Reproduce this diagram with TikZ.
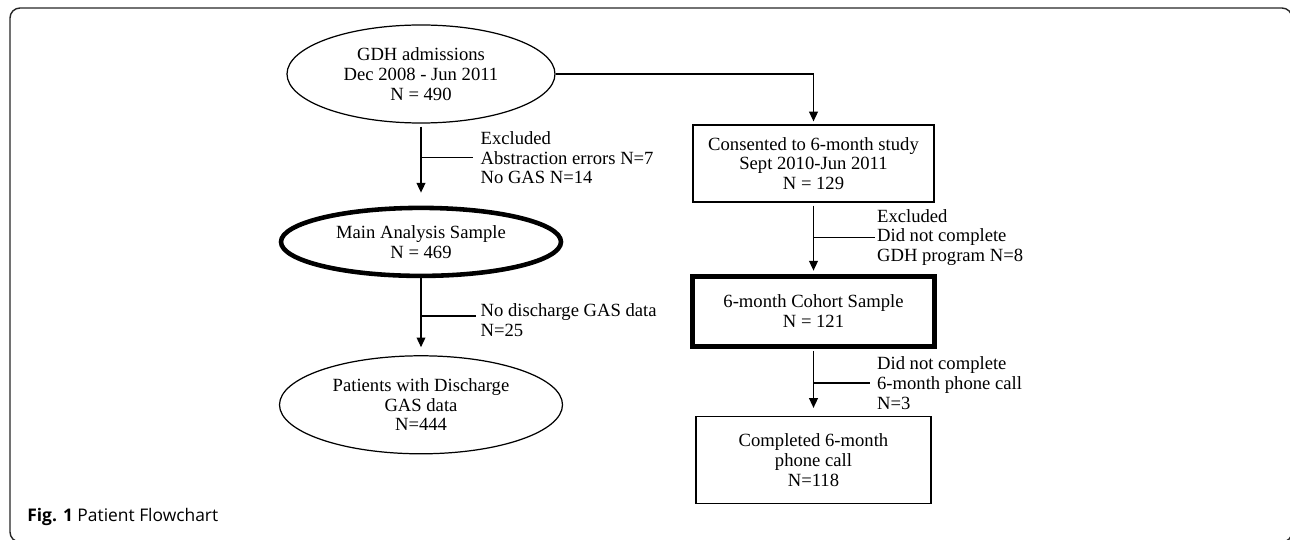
\documentclass[tikz,border=0pt]{standalone}
\usepackage{fontspec}
\setmainfont{Liberation Serif}
\setsansfont{Open Sans}
\usetikzlibrary{arrows.meta, positioning, shapes.geometric}

\begin{document}
\begin{tikzpicture}[
    >={Triangle[length=5.5pt,width=5pt]},
    every node/.style={font=\fontsize{10.6}{11.2}\selectfont},
    oval/.style={
        draw=black, ellipse, line width=0.7pt,
        align=center, inner sep=0pt
    },
    box/.style={
        draw=black, line width=0.7pt,
        align=center, inner sep=0pt
    },
    flow/.style={draw=black, line width=0.7pt, ->},
    side/.style={draw=black, line width=0.7pt},
    note/.style={align=left, anchor=west, inner sep=0pt},
    node distance=1.5cm
]
\useasboundingbox (0,0) rectangle (25.8,-10.8);

% Frame
\draw[black!85, line width=0.8pt, rounded corners=0.2cm]
    (0.2,-10.84) rectangle (25.84,-0.16);

% Left column
\node[oval, minimum width=5.36cm, minimum height=1.96cm] (gdh) at (8.42,-1.48)
    {GDH admissions\\Dec 2008 - Jun 2011\\N = 490};
\node[oval, line width=2.6pt, minimum width=5.6cm, minimum height=1.36cm,
      below=1.64cm of gdh] (main)
    {Main Analysis Sample\\N = 469};
\node[oval, minimum width=5.66cm, minimum height=1.96cm,
      below=1.54cm of main] (pats)
    {Patients with Discharge\\GAS data\\N=444};

% Right column
\node[box, minimum width=4.82cm, minimum height=1.54cm] (consent) at (16.27,-3.27)
    {Consented to 6-month study\\Sept 2010-Jun 2011\\N = 129};
\node[box, line width=3pt, minimum width=4.84cm, minimum height=1.4cm,
      below=1.42cm of consent] (cohort)
    {6-month Cohort Sample\\N = 121};
\node[box, minimum width=4.7cm, minimum height=1.74cm,
      below=1.34cm of cohort] (done)
    {Completed 6-month\\phone call\\N=118};

% Edges
\draw[flow, shorten <=0.06cm, shorten >=0.26cm] (gdh.south) -- coordinate[pos=0.415] (br1) (main.north);
\draw[flow, shorten >=0.16cm] (main.south) -- coordinate[pos=0.49] (br2) (pats.north);
\draw[flow, shorten >=0.06cm] (gdh.east) -| (consent.north);
\draw[flow, shorten <=0.06cm, shorten >=0.06cm] (consent.south) -- coordinate[pos=0.49] (br3) (cohort.north);
\draw[flow, shorten <=0.04cm, shorten >=0.16cm] (cohort.south) -- coordinate[pos=0.51] (br4) (done.north);

% Exclusions
\draw[side] (br1) -- ++(1.04,0) node[note, xshift=0.14cm]
    {Excluded\\Abstraction errors N=7\\No GAS N=14};
\draw[side] (br2) -- ++(1.1,0) node[note, xshift=0.08cm, yshift=-0.09cm]
    {No discharge GAS data\\N=25};
\draw[side] (br3) -- ++(1.22,0) node[note, xshift=0.04cm]
    {Excluded\\Did not complete\\GDH program N=8};
\draw[side] (br4) -- ++(1.12,0) node[note, xshift=0.14cm]
    {Did not complete\\6-month phone call\\N=3};

% Caption
\node[anchor=west, inner sep=0pt, font=\sffamily\fontsize{9.9}{11}\selectfont]
    (caption) at (0.54,-10.34) {\textbf{Fig. 1} Patient Flowchart};

\end{tikzpicture}
\end{document}
